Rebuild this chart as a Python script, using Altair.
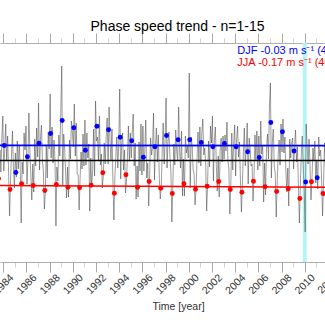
import altair as alt
import pandas as pd

# ---------------- data ----------------
years = list(range(1983, 2012))

# monthly phase speed values, Jan..Dec for each year
monthly = {
    1983: [12.5, 10.8, 11.5, 13.2, 9.4, 9.8, 6.9, 8.3, 11.2, 9.0, 12.4, 14.6],
    1984: [9.1, 11.3, 13.8, 10.2, 12.6, 8.9, 4.6, 8.2, 10.7, 13.1, 9.5, 7.4],
    1985: [10.9, 8.5, 12.1, 9.3, 11.7, 9.6, 3.9, 10.0, 8.8, 12.9, 11.2, 13.6],
    1986: [7.8, 10.2, 14.9, 11.1, 8.7, 6.2, 9.8, 7.0, 12.3, 9.6, 13.4, 10.5],
    1987: [15.9, 9.2, 12.4, 13.7, 10.1, 9.1, 5.3, 7.0, 11.6, 8.4, 13.0, 11.3],
    1988: [16.8, 10.4, 13.5, 9.9, 12.2, 10.2, 3.6, 9.5, 8.1, 12.7, 10.6, 15.2],
    1989: [19.6, 7.6, 12.8, 11.4, 9.0, 6.4, 9.5, 6.5, 12.2, 10.3, 14.1, 13.0],
    1990: [11.5, 15.8, 10.6, 13.9, 8.8, 8.7, 5.2, 8.4, 11.0, 9.3, 12.8, 9.6],
    1991: [14.2, 9.7, 12.9, 10.4, 11.8, 5.1, 10.4, 7.5, 9.2, 13.3, 8.6, 16.1],
    1992: [12.1, 12.5, 10.2, 14.6, 9.7, 10.8, 7.4, 8.6, 11.9, 9.8, 12.6, 14.4],
    1993: [9.8, 15.5, 12.0, 10.1, 13.3, 7.9, 4.2, 8.5, 10.6, 12.5, 9.4, 11.8],
    1994: [17.3, 8.3, 11.7, 12.9, 9.2, 11.2, 6.9, 8.1, 10.4, 13.6, 10.1, 12.9],
    1995: [10.4, 13.1, 14.8, 9.6, 11.9, 6.3, 9.6, 6.5, 12.0, 9.1, 13.8, 8.7],
    1996: [13.6, 9.1, 11.3, 14.2, 8.4, 9.9, 5.6, 8.7, 12.4, 10.7, 11.5, 14.9],
    1997: [8.2, 11.5, 13.4, 10.0, 12.7, 8.4, 6.3, 7.4, 11.1, 13.9, 9.8, 12.2],
    1998: [16.4, 9.4, 12.1, 13.0, 10.5, 9.0, 4.0, 7.6, 11.8, 9.7, 13.2, 11.1],
    1999: [10.1, 15.5, 11.0, 9.4, 13.1, 6.6, 10.3, 6.6, 12.6, 10.9, 11.7, 10.4],
    2000: [18.9, 7.4, 12.5, 11.6, 9.3, 8.8, 5.7, 7.3, 10.2, 13.0, 9.9, 13.5],
    2001: [9.6, 12.8, 14.3, 10.7, 11.4, 9.7, 5.1, 7.9, 12.1, 9.5, 13.6, 11.9],
    2002: [14.6, 8.1, 12.2, 13.5, 9.8, 7.1, 10.6, 6.5, 11.3, 12.4, 10.0, 12.6],
    2003: [10.3, 12.7, 11.1, 14.0, 10.2, 9.3, 4.8, 7.7, 12.9, 9.2, 11.8, 13.7],
    2004: [8.6, 12.3, 13.6, 10.5, 12.0, 8.1, 5.0, 7.8, 10.9, 13.4, 9.6, 11.4],
    2005: [13.9, 7.8, 12.4, 11.3, 9.6, 9.8, 6.1, 8.3, 12.7, 10.1, 13.1, 9.2],
    2006: [12.6, 9.6, 14.1, 10.8, 11.7, 6.0, 9.9, 6.7, 11.4, 12.8, 10.3, 15.6],
    2007: [17.9, 8.4, 12.0, 13.3, 9.5, 8.9, 4.5, 7.8, 10.6, 12.2, 9.7, 13.8],
    2008: [11.0, 14.3, 10.9, 12.5, 9.1, 7.0, 9.4, 5.6, 12.3, 10.4, 11.9, 12.4],
    2009: [9.3, 11.6, 13.2, 10.0, 11.5, 7.6, 3.9, 7.6, 10.8, 12.6, 9.5, 7.2],
    2010: [3.0, 13.8, 11.6, 9.8, 12.3, 9.6, 6.2, 8.3, 11.4, 10.2, 12.1, 7.9],
    2011: [10.1, 7.3, 12.5, 10.6, 11.2, 8.2, 4.6, 7.8, 11.9, 9.4, 12.7, 10.8],
}

djf_years = list(range(1984, 2012))
djf_values = [11.65, 8.95, 10.52, 11.88, 12.85, 14.15, 13.42, 11.18, 13.58, 13.22,
              12.48, 12.12, 10.48, 11.52, 12.65, 12.22, 12.22, 11.95, 11.52, 11.85,
              11.52, 11.02, 10.45, 13.95, 13.02, 11.10, 8.00, 8.42]

jja_years = list(range(1983, 2012))
jja_values = [8.35, 7.25, 7.82, 7.65, 7.15, 7.75, 7.48, 7.42, 7.67, 8.92,
              6.87, 8.72, 7.48, 8.05, 7.38, 6.85, 7.82, 7.28, 7.58, 8.05,
              7.25, 6.98, 8.08, 7.52, 7.05, 7.33, 6.35, 8.02, 6.85]

x_range = [1983.715, 2011.751]
mean_level = [10.15, 10.15]
djf_trend = [11.66, 11.64]
jja_trend = [7.65, 7.48]
marker_year = [2010.0]

tick_years = list(range(1983, 2013))
edge_label_year = [2012]
title_text = "Phase speed trend - n=1-15"
x_title = "Time [year]"
djf_label = "DJF -0.03 m s\u207b\u00b9 (40 yr)\u207b\u00b9"
jja_label = "JJA -0.17 m s\u207b\u00b9 (40 yr)\u207b\u00b9"

# ---------------- tables ----------------
rows = []
for y in years:
    for m, v in enumerate(monthly[y]):
        rows.append({"t": y + (m + 0.5) / 12.0, "v": v})
series = pd.DataFrame(rows)
djf = pd.DataFrame({"t": [y + 0.08 for y in djf_years], "v": djf_values})
jja = pd.DataFrame({"t": [y + 0.58 for y in jja_years], "v": jja_values})
mean_df = pd.DataFrame({"t": x_range, "v": mean_level})
djf_tr = pd.DataFrame({"t": x_range, "v": djf_trend})
jja_tr = pd.DataFrame({"t": x_range, "v": jja_trend})
mark_df = pd.DataFrame({"t": marker_year})
edge_df = pd.DataFrame({"t": edge_label_year, "label": [str(y) for y in edge_label_year]})
text_df = pd.DataFrame({"t": [2004.19, 2004.19], "v": [20.85, 19.65],
                        "label": [djf_label, jja_label], "c": ["DJF", "JJA"]})

FONT = "Liberation Sans"
LABEL_SIZE = 10.5
TICK_LEN = 10
LABEL_PAD = 12
HEIGHT = 219
xscale = alt.Scale(domain=x_range, nice=False, zero=False)
yscale = alt.Scale(domain=[0, 21.9], nice=False, zero=False)
major = "datum.value % 2 == 0"
tick_size = {"condition": {"test": major, "value": TICK_LEN}, "value": 5}
tick_color = {"condition": {"test": major, "value": "#a8a8a8"}, "value": "#d4d4d4"}

bottom_axis = alt.Axis(
    orient="bottom", values=tick_years, format="d",
    labelExpr="datum.value % 2 == 0 ? datum.label : ''",
    labelAngle=-45, labelAlign="center", labelBaseline="middle",
    labelPadding=LABEL_PAD, labelOverlap=False, labelFlush=False, labelBound=False,
    labelFont=FONT, labelFontSize=LABEL_SIZE, labelColor="#333333",
    tickSize=tick_size, tickColor=tick_color, domainColor="#b0b0b0",
    grid=False, title=x_title, titleFont=FONT, titleFontSize=10.5,
    titleFontWeight="normal", titleColor="#333333",
    titleX=178, titleY=47, titleBaseline="alphabetic", titleAlign="center",
)
top_axis = alt.Axis(
    orient="top", values=tick_years, labels=False,
    tickSize=tick_size, tickColor=tick_color, domainColor="#b0b0b0",
    grid=False, title=None,
)

def X(axis=None):
    return alt.X("t:Q", scale=xscale, axis=axis)

Y = alt.Y("v:Q", scale=yscale, axis=None)

cyan = alt.Chart(mark_df).mark_rule(color="#b4f4f4", strokeWidth=4).encode(x=X())
line = alt.Chart(series).mark_line(color="#444444", strokeWidth=0.75, opacity=0.7, clip=True).encode(
    x=X(bottom_axis), y=Y)
mean_line = alt.Chart(mean_df).mark_line(color="black", strokeWidth=1.6, clip=True).encode(
    x=X(top_axis), y=Y)
djf_line = alt.Chart(djf_tr).mark_line(color="#0000ff", strokeWidth=1.6, clip=True).encode(x=X(), y=Y)
jja_line = alt.Chart(jja_tr).mark_line(color="#ff0000", strokeWidth=1.6, clip=True).encode(x=X(), y=Y)
djf_pts = alt.Chart(djf).mark_circle(color="#0000ff", size=24, opacity=1, clip=True).encode(x=X(), y=Y)
jja_pts = alt.Chart(jja).mark_circle(color="#ff0000", size=24, opacity=1, clip=True).encode(x=X(), y=Y)
texts = alt.Chart(text_df).mark_text(align="left", baseline="alphabetic", font=FONT, fontSize=11).encode(
    x=X(), y=Y, text="label:N",
    color=alt.Color("c:N", scale=alt.Scale(domain=["DJF", "JJA"], range=["#0000ff", "#ff0000"]), legend=None))
# tick label of the year just past the right edge (only partly visible)
edge_label = alt.Chart(edge_df).mark_text(
    angle=315, align="center", baseline="middle", font=FONT, fontSize=LABEL_SIZE, color="#333333"
).encode(x=X(), y=alt.value(HEIGHT + TICK_LEN + LABEL_PAD), text="label:N")

chart = alt.layer(
    cyan, line, mean_line, djf_line, jja_line, djf_pts, jja_pts, texts, edge_label
).resolve_axis(x="independent").properties(
    width=325, height=HEIGHT,
    title=alt.TitleParams(title_text, font=FONT, fontSize=14, fontWeight="normal", color="black",
                          anchor="middle", dx=15, dy=26, offset=14, baseline="alphabetic"),
    autosize=alt.AutoSizeParams(type="none"),
    padding={"left": 0, "top": 43, "right": 0, "bottom": 63},
).configure_view(stroke=None)

chart.save("out.html", embed_options={"renderer": "svg", "actions": False})
